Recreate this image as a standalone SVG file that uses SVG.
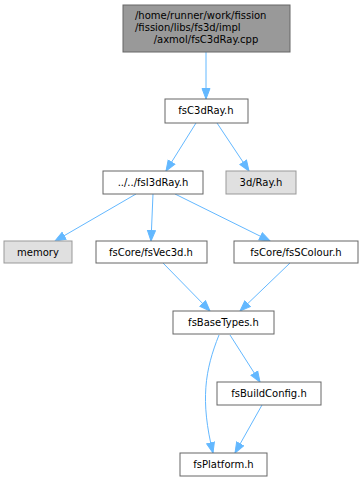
<svg xmlns="http://www.w3.org/2000/svg" width="363" height="481" viewBox="0 0 363 481">
<style>
.n rect{fill:#fff;stroke:#666;stroke-width:1}
.g rect{fill:#e0e0e0;stroke:#999;stroke-width:1}
.t rect{fill:#999;stroke:#666;stroke-width:1}
text{font-family:"DejaVu Sans",sans-serif;font-size:10px;fill:#000}
.m{text-anchor:middle}
.e path{fill:none;stroke:#63b8ff;stroke-width:1}
</style>
<defs>
<marker id="a" markerUnits="userSpaceOnUse" markerWidth="12" markerHeight="10" refX="11" refY="5" orient="auto">
<path d="M0.5,1 L11,5 L0.5,9 Z" fill="#63b8ff" stroke="#63b8ff"/>
</marker>
</defs>
<g class="e">
<path d="M206,52 V99" marker-end="url(#a)"/>
<path d="M196,123 L166,171" marker-end="url(#a)"/>
<path d="M217,123 L249,171" marker-end="url(#a)"/>
<path d="M136,194 L55,241" marker-end="url(#a)"/>
<path d="M153,194 L151,241" marker-end="url(#a)"/>
<path d="M175,194 L270,241" marker-end="url(#a)"/>
<path d="M163,263 L210,311" marker-end="url(#a)"/>
<path d="M290,263 L240,311" marker-end="url(#a)"/>
<path d="M230,335 L260,382" marker-end="url(#a)"/>
<path d="M219,335 C205,370 200,400 213,453" marker-end="url(#a)"/>
<path d="M262,405 L235,453" marker-end="url(#a)"/>
</g>
<g id="node1" class="t"><rect x="123" y="5" width="167" height="47"/>
<text x="135" y="19">/home/runner/work/fission</text>
<text x="135" y="31">/fission/libs/fs3d/impl</text>
<text x="206" y="43" class="m">/axmol/fsC3dRay.cpp</text></g>
<g id="node2" class="n"><rect x="165" y="99" width="83" height="24"/><text x="206" y="114" class="m">fsC3dRay.h</text></g>
<g id="node3" class="n"><rect x="103" y="171" width="100" height="23"/><text x="153" y="186" class="m">../../fsI3dRay.h</text></g>
<g id="node4" class="g"><rect x="226" y="171" width="70" height="23"/><text x="261" y="186" class="m">3d/Ray.h</text></g>
<g id="node5" class="g"><rect x="4" y="241" width="68" height="22"/><text x="38" y="256" class="m">memory</text></g>
<g id="node6" class="n"><rect x="96" y="241" width="111" height="22"/><text x="151" y="256" class="m">fsCore/fsVec3d.h</text></g>
<g id="node7" class="n"><rect x="234" y="241" width="124" height="22"/><text x="296" y="256" class="m">fsCore/fsSColour.h</text></g>
<g id="node8" class="n"><rect x="173" y="311" width="101" height="23"/><text x="223.5" y="326" class="m">fsBaseTypes.h</text></g>
<g id="node9" class="n"><rect x="217" y="382" width="104" height="23"/><text x="269" y="397" class="m">fsBuildConfig.h</text></g>
<g id="node10" class="n"><rect x="180" y="453" width="87" height="23"/><text x="223.5" y="468" class="m">fsPlatform.h</text></g>
</svg>
